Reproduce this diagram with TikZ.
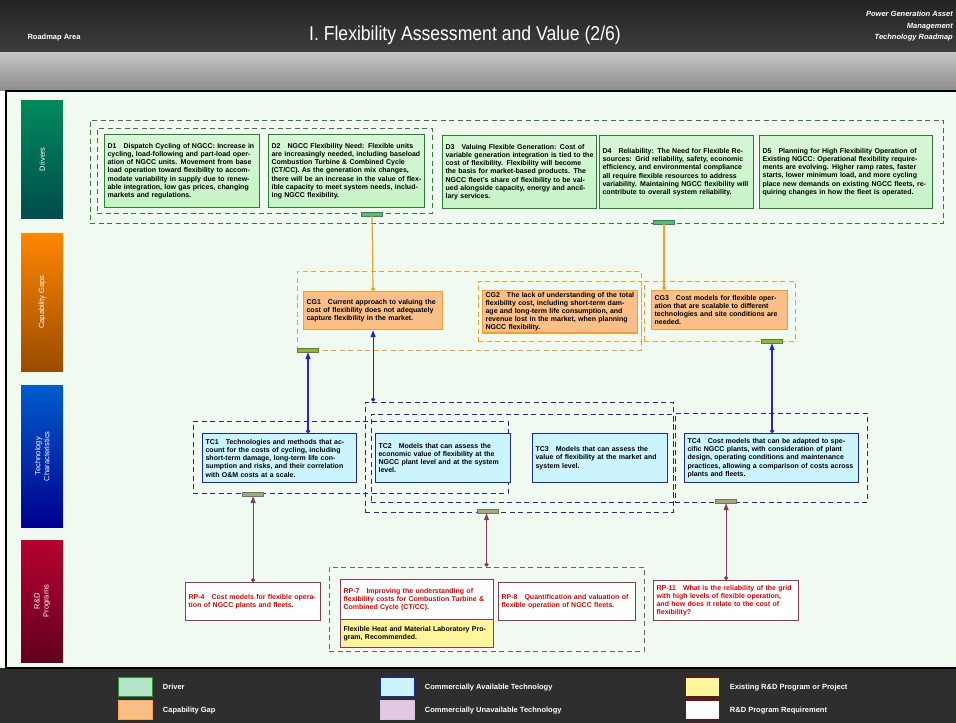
\documentclass[tikz,border=0pt]{standalone}
\usepackage{fontspec}
\setmainfont{Liberation Sans}
\newfontfamily\titlefont[FakeStretch=0.88]{Liberation Sans}
\usetikzlibrary{fit,arrows.meta}
\definecolor{drvB}{HTML}{2E7D32}
\definecolor{drvF}{HTML}{C6F3C6}
\definecolor{cgB}{HTML}{F0A030}
\definecolor{cgF}{HTML}{FABF88}
\definecolor{tcB}{HTML}{1A2A9A}
\definecolor{tcF}{HTML}{CCF4FF}
\definecolor{blueL}{HTML}{2222DD}
\definecolor{rpB}{HTML}{8A3A5A}
\definecolor{rpG}{HTML}{7A5A66}
\definecolor{rpT}{HTML}{E00000}
\definecolor{yelF}{HTML}{FFF59D}
\definecolor{bgC}{HTML}{F1FAF0}
\definecolor{tabG}{HTML}{5CB878}
\definecolor{tabO}{HTML}{8EB444}
\definecolor{tabT}{HTML}{A4A884}
\tikzset{
  every node/.style={font=\fontsize{7}{8.2}\selectfont\bfseries},
  box/.style={draw, line width=1.2pt, anchor=north west, inner xsep=3pt, inner ysep=1.5pt, align=left},
  dbox/.style={box, draw=drvB, top color=drvF!70!white, bottom color=drvF},
  cbox/.style={box, draw=cgB, fill=cgF},
  tbox/.style={box, draw=tcB, fill=tcF},
  rbox/.style={box, draw=rpB, fill=white, text=rpT},
  ybox/.style={box, draw=rpB, fill=yelF},
  grp/.style={draw, inner sep=0pt, line width=1pt, dash pattern=on 5pt off 3.5pt},
  tab/.style={draw=#1!70!black, fill=#1, line width=0.4pt, minimum width=21pt, minimum height=4pt, inner sep=0pt},
  lane/.style={anchor=north west, inner sep=0pt, text=white, align=center},
  lanetxt/.style={rotate=90, text=white, align=center, font=\fontsize{7.5}{9}\selectfont},
  oline/.style={draw=cgB, line width=1.2pt, -{Circle[length=4pt]}},
  bline/.style={draw=blueL, line width=1.2pt, {Circle[length=4pt]}-{Triangle[length=7pt,width=5pt]}},
  mline/.style={draw=rpB, line width=1.2pt, {Circle[length=4pt]}-{Triangle[length=7pt,width=5pt]}},
  sw/.style={anchor=north west, line width=1.4pt, minimum width=34pt, minimum height=19pt, inner sep=0pt},
  lg/.style={anchor=west, text=white, font=\fontsize{7.5}{9}\selectfont\bfseries},
}
\begin{document}
\begin{tikzpicture}[x=1pt,y=-1pt]
\useasboundingbox (0,0) rectangle (956,723);
% header
\path[top color=black!86, bottom color=black!76] (0,0) rectangle (956,52);
\path[top color=black!22, bottom color=black!45] (0,52) rectangle (956,90);
\path[fill=black!82] (0,668) rectangle (956,723);
\path[fill=bgC, draw=black, line width=2.5pt] (6,91) rectangle (960,668);
\node[anchor=west, text=white, font=\fontsize{7.5}{9}\selectfont\bfseries] (area) at (24,38) {Roadmap Area};
\node[text=white, font=\titlefont\fontsize{20}{24}\selectfont] (title) at (465,35) {I. Flexibility Assessment and Value (2/6)};
\node[anchor=north east, text=white, align=right, inner sep=0pt, font=\fontsize{7.5}{11.5}\selectfont\bfseries\itshape] (hdr) at (953,11) {Power Generation Asset\\Management\\Technology Roadmap};
% lanes
\node[lane, minimum width=42pt, minimum height=118pt, top color=teal!80!green!90!black, bottom color=teal!60!black] (l1) at (21,100) {};
\node[lanetxt] at (l1.center) {Drivers};
\node[lane, minimum width=42pt, minimum height=138pt, top color=orange!95!yellow, bottom color=orange!60!black] (l2) at (21,233) {};
\node[lanetxt] at (l2.center) {Capability Gaps};
\node[lane, minimum width=42pt, minimum height=142pt, top color=blue!55!cyan!80!black, bottom color=blue!55!black] (l3) at (21,385) {};
\node[lanetxt] at (l3.center) {Technology\\Characteristics};
\node[lane, minimum width=42pt, minimum height=122pt, top color=purple!80!red!90!black, bottom color=purple!50!black] (l4) at (21,540) {};
\node[lanetxt] at (l4.center) {R\&D\\Programs};
% groups
\node[grp, draw=drvB, fit={(90,120) (943,223)}] (gD) {};
\node[grp, draw=drvB, fit={(97,128) (432,213)}] (gD12) {};
\node[grp, draw=cgB, fit={(297,271) (641,350)}] (gC) {};
\node[grp, draw=cgB, fit={(478,281) (641,341)}] (gC2) {};
\node[grp, draw=cgB, fit={(644,281) (795,341)}] (gC3) {};
\node[grp, draw=tcB, fit={(193,421) (508,493)}] (gTA) {};
\node[grp, draw=tcB, fit={(371,414) (673,502)}] (gTB) {};
\node[grp, draw=tcB, fit={(365,402) (673,512)}] (gTC) {};
\node[grp, draw=tcB, fit={(675,413) (867,502)}] (gTD) {};
\node[grp, draw=rpG, fit={(329,567) (644,651)}] (gR) {};
% drivers
\node[dbox, minimum width=155pt, minimum height=73pt, text width=149pt] (d1) at (104,134) {D1\quad Dispatch Cycling of NGCC: Increase in cycling, load-following and part-load operation of NGCC units. Movement from base load operation toward flexibility to accommodate variability in supply due to renewable integration, low gas prices, changing markets and regulations.};
\node[dbox, minimum width=156pt, minimum height=73pt, text width=150pt] (d2) at (268,134) {D2\quad NGCC Flexibility Need: Flexible units are increasingly needed, including baseload Combustion Turbine \& Combined Cycle (CT/CC). As the generation mix changes, there will be an increase in the value of flexible capacity to meet system needs, including NGCC flexibility.};
\node[dbox, minimum width=154pt, minimum height=73pt, text width=148pt] (d3) at (442,135) {D3\quad Valuing Flexible Generation: Cost of variable generation integration is tied to the cost of flexibility. Flexibility will become the basis for market-based products. The NGCC fleet's share of flexibility to be valued alongside capacity, energy and ancillary services.};
\node[dbox, minimum width=154pt, minimum height=73pt, text width=148pt] (d4) at (599,135) {D4\quad Reliability: The Need for Flexible Resources: Grid reliability, safety, economic efficiency, and environmental compliance all require flexible resources to address variability. Maintaining NGCC flexibility will contribute to overall system reliability.};
\node[dbox, minimum width=173pt, minimum height=73pt, text width=167pt] (d5) at (759,135) {D5\quad Planning for High Flexibility Operation of Existing NGCC: Operational flexibility requirements are evolving. Higher ramp rates, faster starts, lower minimum load, and more cycling place new demands on existing NGCC fleets, requiring changes in how the fleet is operated.};
\node[tab=tabG] (dt1) at (372,214) {};
\node[tab=tabG] (dt2) at (664,222) {};
% capability gaps
\node[cbox, minimum width=139pt, minimum height=38pt, text width=133pt] (cg1) at (303,291) {CG1\quad Current approach to valuing the cost of flexibility does not adequately capture flexibility in the market.};
\node[cbox, minimum width=155pt, minimum height=40pt, text width=149pt] (cg2) at (482,290) {CG2\quad The lack of understanding of the total flexibility cost, including short-term damage and long-term life consumption, and revenue lost in the market, when planning NGCC flexibility.};
\node[cbox, minimum width=136pt, minimum height=39pt, text width=130pt] (cg3) at (651,290) {CG3\quad Cost models for flexible operation that are scalable to different technologies and site conditions are needed.};
\node[tab=tabO] (ct1) at (308,350) {};
\node[tab=tabO] (ct2) at (772,341) {};
% technology characteristics
\node[tbox, minimum width=154pt, minimum height=49pt, text width=148pt] (tc1) at (202,433) {TC1\quad Technologies and methods that account for the costs of cycling, including short-term damage, long-term life consumption and risks, and their correlation with O\&M costs at a scale.};
\node[tbox, minimum width=135pt, minimum height=49pt, text width=129pt] (tc2) at (375,433) {TC2\quad Models that can assess the economic value of flexibility at the NGCC plant level and at the system level.};
\node[tbox, minimum width=135pt, minimum height=49pt, text width=129pt] (tc3) at (532,433) {TC3\quad Models that can assess the value of flexibility at the market and system level.};
\node[tbox, minimum width=174pt, minimum height=49pt, text width=168pt] (tc4) at (684,433) {TC4\quad Cost models that can be adapted to specific NGCC plants, with consideration of plant design, operating conditions and maintenance practices, allowing a comparison of costs across plants and fleets.};
\node[tab=tabT] (tt1) at (253,494) {};
\node[tab=tabT] (tt2) at (488,511) {};
\node[tab=tabT] (tt3) at (726,501) {};
% R&D programs
\node[rbox, minimum width=135pt, minimum height=38pt, text width=129pt] (rp1) at (185,582) {RP-4\quad Cost models for flexible operation of NGCC plants and fleets.};
\node[rbox, minimum width=153pt, minimum height=40pt, text width=147pt] (rp2) at (340,579) {RP-7\quad Improving the understanding of flexibility costs for Combustion Turbine \& Combined Cycle (CT/CC).};
\node[ybox, minimum width=153pt, minimum height=28pt, text width=147pt] (ye) at (340,619) {Flexible Heat and Material Laboratory Program, Recommended.};
\node[rbox, minimum width=137pt, minimum height=38pt, text width=131pt] (rp3) at (498,582) {RP-8\quad Quantification and valuation of flexible operation of NGCC fleets.};
\node[rbox, minimum width=145pt, minimum height=40pt, text width=139pt] (rp4) at (653,580) {RP-11\quad What is the reliability of the grid with high levels of flexible operation, and how does it relate to the cost of flexibility?};
% connectors
\draw[oline] (dt1.south) -- (cg1.north);
\draw[oline] (dt2.south) -- (dt2.south |- cg3.north);
\draw[bline] (ct1.south |- tc1.north) -- (ct1.south);
\draw[bline] (cg1.south |- gTC.north) -- (cg1.south);
\draw[bline] (ct2.south |- tc4.north) -- (ct2.south);
\draw[mline] (rp1.north) -- (rp1.north |- tt1.south);
\draw[mline] (gR.north) -- (gR.north |- tt2.south);
\draw[mline] (rp4.north) -- (rp4.north |- tt3.south);
% legend
\node[sw, draw=drvB!80!green, fill=cyan!25!green!30] (s1) at (118,677) {};
\node[lg] (t1) at ([xshift=6pt]s1.east) {Driver};
\node[sw, draw=orange!70, fill=cgF] (s2) at (118,700) {};
\node[lg] (t2) at ([xshift=6pt]s2.east) {Capability Gap};
\node[sw, draw=tcB, fill=tcF] (s3) at (380,677) {};
\node[lg] (t3) at ([xshift=6pt]s3.east) {Commercially Available Technology};
\node[sw, draw=violet!25, fill=violet!22] (s4) at (380,700) {};
\node[lg] (t4) at ([xshift=6pt]s4.east) {Commercially Unavailable Technology};
\node[sw, draw=red!60!black, fill=yelF] (s5) at (685,677) {};
\node[lg] (t5) at ([xshift=6pt]s5.east) {Existing R\&D Program or Project};
\node[sw, draw=red!60!black, fill=white] (s6) at (685,700) {};
\node[lg] (t6) at ([xshift=6pt]s6.east) {R\&D Program Requirement};
\end{tikzpicture}
\end{document}
